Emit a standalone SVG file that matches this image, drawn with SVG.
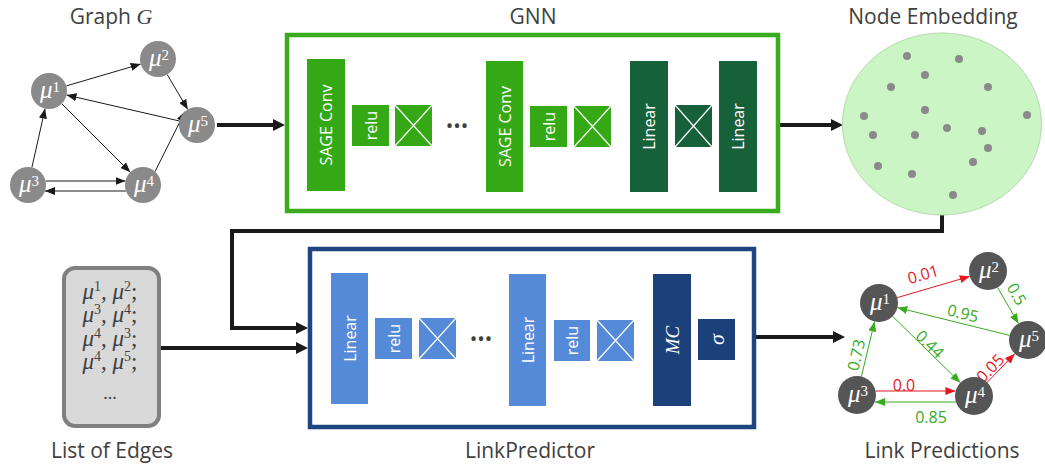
<svg xmlns="http://www.w3.org/2000/svg" width="1045" height="470" viewBox="0 0 1045 470">
<defs>
<style>
.title{font-family:"Open Sans","Liberation Sans",sans-serif;font-size:21px;fill:#404040;text-anchor:middle}
.blk{font-family:"Open Sans","Liberation Sans",sans-serif;font-size:16px;fill:#ffffff;text-anchor:middle;dominant-baseline:central}
.math{font-family:"Liberation Serif","DejaVu Serif",serif}
.it{font-style:italic}
.lg{fill:#34a915}
.dg{fill:#16613a}
.lb{fill:#558ad8}
.db{fill:#1c417a}
.xl{stroke:#ffffff;stroke-width:1.2;fill:none}
.thick{stroke:#1a1a1a;stroke-width:4;fill:none}
.e{stroke:#1a1a1a;stroke-width:1;fill:none;marker-end:url(#ab)}
.er{stroke:#e8161b;stroke-width:1;fill:none;marker-end:url(#ar)}
.eg{stroke:#3aaa1f;stroke-width:1;fill:none;marker-end:url(#ag)}
.nl{fill:#8a8a8a}
.nr{fill:#555555}
.nt{font-family:"Liberation Serif","DejaVu Serif",serif;fill:#ffffff;text-anchor:middle;font-size:25px}
.lbl{font-family:"Open Sans","Liberation Sans",sans-serif;font-size:16px;text-anchor:middle;dominant-baseline:central}
.dot{fill:#8a8a8a}
</style>
<marker id="big" viewBox="0 -6 12 12" refX="1" refY="0" markerWidth="12" markerHeight="12" markerUnits="userSpaceOnUse" orient="auto"><path d="M0,-6 L12,0 L0,6 z" fill="#1a1a1a"/></marker>
<marker id="ab" viewBox="0 -4 10 8" refX="10" refY="0" markerWidth="10" markerHeight="8" markerUnits="userSpaceOnUse" orient="auto"><path d="M0,-4 L10,0 L0,4 z" fill="#1a1a1a"/></marker>
<marker id="ar" viewBox="0 -4 10 8" refX="10" refY="0" markerWidth="10" markerHeight="8" markerUnits="userSpaceOnUse" orient="auto"><path d="M0,-4 L10,0 L0,4 z" fill="#e8161b"/></marker>
<marker id="ag" viewBox="0 -4 10 8" refX="10" refY="0" markerWidth="10" markerHeight="8" markerUnits="userSpaceOnUse" orient="auto"><path d="M0,-4 L10,0 L0,4 z" fill="#3aaa1f"/></marker>
</defs>
<rect width="1045" height="470" fill="#ffffff"/>

<!-- Titles -->
<text class="title" x="111" y="24">Graph <tspan class="math it" font-size="22">G</tspan></text>
<text class="title" x="533" y="24">GNN</text>
<text class="title" x="933" y="24">Node Embedding</text>
<text class="title" x="112" y="458">List of Edges</text>
<text class="title" x="530" y="458">LinkPredictor</text>
<text class="title" x="942" y="458">Link Predictions</text>

<!-- Connectors -->
<g id="connectors">
<line class="thick" x1="217" y1="125" x2="274" y2="125" marker-end="url(#big)"/>
<line class="thick" x1="780" y1="125" x2="832" y2="125" marker-end="url(#big)"/>
<path class="thick" d="M942,215 L942,231 L232,231 L232,328 L297,328" marker-end="url(#big)"/>
<line class="thick" x1="160" y1="348" x2="297" y2="348" marker-end="url(#big)"/>
<line class="thick" x1="756" y1="337" x2="834" y2="337" marker-end="url(#big)"/>
</g>

<!-- Graph G edges -->
<g id="graph-edges">
<line class="e" x1="66.3" y1="85.9" x2="140.7" y2="64.1"/>
<line class="e" x1="167.2" y1="74.5" x2="187.8" y2="109.5"/>
<line class="e" x1="179.5" y1="121" x2="66.5" y2="95"/>
<line class="e" x1="61.7" y1="103.7" x2="130.3" y2="172.3"/>
<line class="e" x1="31.9" y1="167.4" x2="45.1" y2="108.6"/>
<line class="e" x1="45.5" y1="181" x2="125.5" y2="181"/>
<line class="e" x1="126" y1="191" x2="45" y2="191"/>
<line class="e" x1="155" y1="171.6" x2="185" y2="111.6"/>
</g>

<!-- Graph G nodes -->
<g id="g-n1"><circle class="nl" cx="49" cy="91" r="18"/><text class="nt" x="50" y="98"><tspan class="it">μ</tspan><tspan dy="-6" font-size="15">1</tspan></text></g>
<g id="g-n2"><circle class="nl" cx="158" cy="59" r="18"/><text class="nt" x="159" y="66"><tspan class="it">μ</tspan><tspan dy="-6" font-size="15">2</tspan></text></g>
<g id="g-n3"><circle class="nl" cx="28" cy="185" r="18"/><text class="nt" x="29" y="192"><tspan class="it">μ</tspan><tspan dy="-6" font-size="15">3</tspan></text></g>
<g id="g-n4"><circle class="nl" cx="143" cy="185" r="18"/><text class="nt" x="144" y="192"><tspan class="it">μ</tspan><tspan dy="-6" font-size="15">4</tspan></text></g>
<g id="g-n5"><circle class="nl" cx="197" cy="125" r="18"/><text class="nt" x="198" y="132"><tspan class="it">μ</tspan><tspan dy="-6" font-size="15">5</tspan></text></g>

<!-- GNN -->
<g id="gnn">
<rect x="287" y="35" width="491" height="176" fill="#ffffff" stroke="#3aaa1f" stroke-width="4.5"/>
<rect class="lg" x="307" y="59" width="38" height="132"/>
<text class="blk" transform="translate(326,125) rotate(-90)">SAGE Conv</text>
<rect class="lg" x="352" y="105" width="37" height="41"/>
<text class="blk" transform="translate(370.5,125.5) rotate(-90)">relu</text>
<rect class="lg" x="395" y="105" width="37" height="41"/>
<path class="xl" d="M395,105 L432,146 M432,105 L395,146"/>
<text x="457" y="125" font-family="Open Sans, sans-serif" font-size="20" fill="#404040" text-anchor="middle" dominant-baseline="central">•••</text>
<rect class="lg" x="486" y="61" width="37" height="131"/>
<text class="blk" transform="translate(504.5,126.5) rotate(-90)">SAGE Conv</text>
<rect class="lg" x="530" y="106" width="37" height="41"/>
<text class="blk" transform="translate(548.5,126.5) rotate(-90)">relu</text>
<rect class="lg" x="574" y="106" width="37" height="41"/>
<path class="xl" d="M574,106 L611,147 M611,106 L574,147"/>
<rect class="dg" x="630" y="61" width="38" height="131"/>
<text class="blk" transform="translate(649,126.5) rotate(-90)">Linear</text>
<rect class="dg" x="675" y="105" width="37" height="42"/>
<path class="xl" d="M675,105 L712,147 M712,105 L675,147"/>
<rect class="dg" x="719" y="61" width="38" height="131"/>
<text class="blk" transform="translate(738,126.5) rotate(-90)">Linear</text>
</g>

<!-- Node Embedding -->
<g id="embedding">
<ellipse cx="942" cy="124" rx="99.5" ry="91" fill="#ccf5c5" stroke="#b5d9ae" stroke-width="1"/>
<circle class="dot" cx="907" cy="56" r="4"/>
<circle class="dot" cx="959" cy="59" r="4"/>
<circle class="dot" cx="925" cy="75" r="4"/>
<circle class="dot" cx="891" cy="87" r="4"/>
<circle class="dot" cx="988" cy="87" r="4"/>
<circle class="dot" cx="925" cy="110" r="4"/>
<circle class="dot" cx="864" cy="116" r="4"/>
<circle class="dot" cx="1027" cy="115" r="4"/>
<circle class="dot" cx="947" cy="128" r="4"/>
<circle class="dot" cx="873" cy="135" r="4"/>
<circle class="dot" cx="915" cy="135" r="4"/>
<circle class="dot" cx="982" cy="131" r="4"/>
<circle class="dot" cx="988" cy="148" r="4"/>
<circle class="dot" cx="878" cy="166" r="4"/>
<circle class="dot" cx="973" cy="162" r="4"/>
<circle class="dot" cx="912" cy="174" r="4"/>
<circle class="dot" cx="953" cy="195" r="4"/>
</g>

<!-- List of Edges -->
<g id="edge-list">
<rect x="64" y="268" width="95" height="158" rx="11" ry="11" fill="#d9d9d9" stroke="#808080" stroke-width="4"/>
<g class="math" font-size="23" fill="#404040" text-anchor="middle">
<text x="110" y="299"><tspan class="it">μ</tspan><tspan dy="-8" font-size="14">1</tspan><tspan dy="8">, </tspan><tspan class="it">μ</tspan><tspan dy="-8" font-size="14">2</tspan><tspan dy="8">;</tspan></text>
<text x="110" y="322"><tspan class="it">μ</tspan><tspan dy="-8" font-size="14">3</tspan><tspan dy="8">, </tspan><tspan class="it">μ</tspan><tspan dy="-8" font-size="14">4</tspan><tspan dy="8">;</tspan></text>
<text x="110" y="346"><tspan class="it">μ</tspan><tspan dy="-8" font-size="14">4</tspan><tspan dy="8">, </tspan><tspan class="it">μ</tspan><tspan dy="-8" font-size="14">3</tspan><tspan dy="8">;</tspan></text>
<text x="110" y="369"><tspan class="it">μ</tspan><tspan dy="-8" font-size="14">4</tspan><tspan dy="8">, </tspan><tspan class="it">μ</tspan><tspan dy="-8" font-size="14">5</tspan><tspan dy="8">;</tspan></text>
<text x="110" y="399" font-size="18">...</text>
</g>
</g>

<!-- LinkPredictor -->
<g id="linkpredictor">
<rect x="310" y="249" width="444" height="178" fill="#ffffff" stroke="#1f4580" stroke-width="4.5"/>
<rect class="lb" x="331" y="273" width="37" height="131"/>
<text class="blk" transform="translate(349.5,338.5) rotate(-90)">Linear</text>
<rect class="lb" x="375" y="318" width="37" height="41"/>
<text class="blk" transform="translate(393.5,338.5) rotate(-90)">relu</text>
<rect class="lb" x="419" y="318" width="37" height="41"/>
<path class="xl" d="M419,318 L456,359 M456,318 L419,359"/>
<text x="481" y="338" font-family="Open Sans, sans-serif" font-size="20" fill="#404040" text-anchor="middle" dominant-baseline="central">•••</text>
<rect class="lb" x="509" y="274" width="37" height="132"/>
<text class="blk" transform="translate(527.5,340) rotate(-90)">Linear</text>
<rect class="lb" x="554" y="320" width="36" height="41"/>
<text class="blk" transform="translate(572,340.5) rotate(-90)">relu</text>
<rect class="lb" x="597" y="320" width="37" height="41"/>
<path class="xl" d="M597,320 L634,361 M634,320 L597,361"/>
<rect class="db" x="653" y="274" width="38" height="132"/>
<text class="math it" transform="translate(672,340) rotate(-90)" font-size="19" fill="#ffffff" text-anchor="middle" dominant-baseline="central">MC</text>
<rect class="db" x="698" y="319" width="37" height="41"/>
<text class="math it" transform="translate(716.5,339.5) rotate(-90)" font-size="22" fill="#ffffff" text-anchor="middle" dominant-baseline="central">σ</text>
</g>

<!-- Link Predictions edges -->
<g id="pred-edges">
<line class="er" x1="897.2" y1="297.6" x2="969.8" y2="276.4"/>
<line class="eg" x1="997.5" y1="287.4" x2="1018.5" y2="323.6"/>
<line class="eg" x1="1009.6" y1="335.4" x2="897.4" y2="307.6"/>
<line class="eg" x1="892.6" y1="316.3" x2="960.4" y2="382.7"/>
<line class="eg" x1="861.4" y1="376.5" x2="874.6" y2="321.5"/>
<line class="er" x1="875.6" y1="391" x2="955.4" y2="391"/>
<line class="eg" x1="956" y1="402" x2="875" y2="402"/>
<line class="er" x1="987.2" y1="382.3" x2="1014.8" y2="353.7"/>
<text class="lbl" fill="#e8161b" transform="translate(923,274) rotate(-16)">0.01</text>
<text class="lbl" fill="#3aaa1f" transform="translate(1017,294) rotate(60)">0.5</text>
<text class="lbl" fill="#3aaa1f" transform="translate(963,313) rotate(14)">0.95</text>
<text class="lbl" fill="#3aaa1f" transform="translate(930,344) rotate(44)">0.44</text>
<text class="lbl" fill="#3aaa1f" transform="translate(856,355) rotate(-77)">0.73</text>
<text class="lbl" fill="#e8161b" transform="translate(990,368) rotate(-46)">0.05</text>
<text class="lbl" fill="#e8161b" x="904" y="385">0.0</text>
<text class="lbl" fill="#3aaa1f" x="931" y="417">0.85</text>
</g>

<!-- Link Predictions nodes -->
<g id="p-n1"><circle class="nr" cx="879" cy="303" r="19"/><text class="nt" x="880" y="310"><tspan class="it">μ</tspan><tspan dy="-6" font-size="15">1</tspan></text></g>
<g id="p-n2"><circle class="nr" cx="988" cy="271" r="19"/><text class="nt" x="989" y="278"><tspan class="it">μ</tspan><tspan dy="-6" font-size="15">2</tspan></text></g>
<g id="p-n3"><circle class="nr" cx="857" cy="395" r="19"/><text class="nt" x="858" y="402"><tspan class="it">μ</tspan><tspan dy="-6" font-size="15">3</tspan></text></g>
<g id="p-n4"><circle class="nr" cx="974" cy="396" r="19"/><text class="nt" x="975" y="403"><tspan class="it">μ</tspan><tspan dy="-6" font-size="15">4</tspan></text></g>
<g id="p-n5"><circle class="nr" cx="1028" cy="340" r="19"/><text class="nt" x="1029" y="347"><tspan class="it">μ</tspan><tspan dy="-6" font-size="15">5</tspan></text></g>
</svg>
